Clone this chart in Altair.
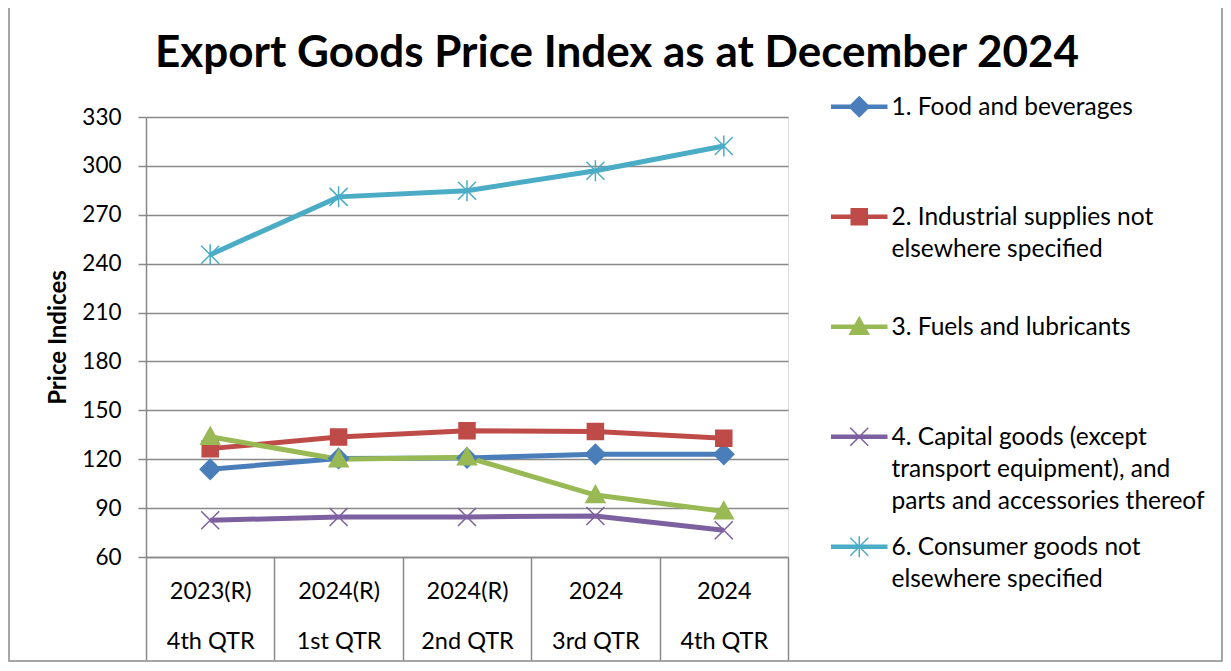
import altair as alt
import pandas as pd

# ---- data ----
categories = ["2023(R)|4th QTR", "2024(R)|1st QTR", "2024(R)|2nd QTR", "2024|3rd QTR", "2024|4th QTR"]
series_labels = [
    "1. Food and beverages||",
    "2. Industrial supplies not|elsewhere specified|",
    "3. Fuels and lubricants||",
    "4. Capital goods (except|transport equipment), and|parts and accessories thereof",
    "6. Consumer goods not|elsewhere specified|",
]
food = [113.8, 120.5, 120.8, 123.0, 123.0]
industrial = [126.5, 133.6, 137.4, 137.0, 132.8]
fuels = [133.8, 120.0, 121.2, 98.0, 88.0]
capital = [82.5, 84.6, 84.6, 85.2, 76.4]
consumer = [245.5, 281.0, 284.8, 297.0, 312.2]
y_ticks = [60, 90, 120, 150, 180, 210, 240, 270, 300, 330]

colors = ["#4A7EBB", "#BE4B48", "#98B954", "#7D60A0", "#4BACC6"]

# marker shapes (unit coordinates)
marker_paths = [
    "M0,-1L1,0L0,1L-1,0Z",
    "M-0.8,-0.8H0.8V0.8H-0.8Z",
    "M0,-0.95L0.95,0.75L-0.95,0.75Z",
    "M-0.9,-0.9L0.9,0.9M-0.9,0.9L0.9,-0.9",
    "M-0.9,-0.9L0.9,0.9M-0.9,0.9L0.9,-0.9M0,-1.05L0,1.05",
]

S = 1.05  # vertical shift of legend symbols to align with first label line
line_part = "M-2.75,{a}H2.75V{b}H-2.75Z".format(a=S - 0.16, b=S + 0.16)
legend_paths = [
    line_part + "M0,{a}L1,{b}L0,{c}L-1,{b}Z".format(a=S - 1, b=S, c=S + 1),
    line_part + "M-0.8,{a}H0.8V{b}H-0.8Z".format(a=S - 0.8, b=S + 0.8),
    line_part + "M0,{a}L0.95,{b}L-0.95,{b}Z".format(a=S - 0.95, b=S + 0.75),
    line_part + "M-0.9,{a}L0.9,{b}M-0.9,{b}L0.9,{a}".format(a=S - 0.9, b=S + 0.9),
    line_part + "M-0.9,{a}L0.9,{b}M-0.9,{b}L0.9,{a}M0,{c}L0,{d}".format(a=S - 0.9, b=S + 0.9, c=S - 1.05, d=S + 1.05),
]

rows = []
for name, vals in zip(series_labels, [food, industrial, fuels, capital, consumer]):
    for c, v in zip(categories, vals):
        rows.append({"quarter": c, "series": name, "value": v})
df = pd.DataFrame(rows)

GRAY = "#898989"
FONT = "Lato"

x_enc = alt.X(
    "quarter:N",
    sort=categories,
    bandPosition=0.5,
    scale=alt.Scale(type="band", paddingInner=0, paddingOuter=0),
    axis=alt.Axis(
        title=None,
        labelExpr="split(datum.label, '|')",
        labelAngle=0,
        tickBand="extent",
        tickSize=103,
        tickColor=GRAY,
        tickWidth=1.5,
        domainColor=GRAY,
        domainWidth=1.5,
        labelPadding=-81,
        labelLineHeight=50,
        labelFont=FONT,
        labelFontSize=23.5,
        labelColor="black",
        labelOverlap=False,
    ),
)
y_enc = alt.Y(
    "value:Q",
    scale=alt.Scale(domain=[60, 330], nice=False, zero=False),
    axis=alt.Axis(
        values=y_ticks,
        title="Price Indices",
        titleFont=FONT,
        titleFontSize=24,
        titleFontWeight="bold",
        titleColor="black",
        titlePadding=11,
        grid=True,
        gridColor=GRAY,
        gridWidth=1.5,
        tickSize=8,
        tickColor=GRAY,
        tickWidth=1.5,
        domainColor=GRAY,
        domainWidth=1.5,
        labelPadding=17,
        labelFont=FONT,
        labelFontSize=22.5,
        labelColor="black",
    ),
)

lines = alt.Chart(df).mark_line(strokeWidth=5).encode(
    x=x_enc,
    y=y_enc,
    color=alt.Color("series:N", scale=alt.Scale(domain=series_labels, range=colors), legend=None),
)

points = alt.Chart(df).mark_point(filled=True, opacity=1, strokeWidth=1.5, size=400).encode(
    x=x_enc,
    y=y_enc,
    fill=alt.Fill("series:N", scale=alt.Scale(domain=series_labels, range=colors), legend=None),
    stroke=alt.Stroke("series:N", scale=alt.Scale(domain=series_labels, range=colors), legend=None),
    shape=alt.Shape("series:N", scale=alt.Scale(domain=series_labels, range=marker_paths), legend=None),
)

legend_def = alt.Legend(
    title=None,
    orient="none",
    legendX=701,
    legendY=-33,
    padding=0,
    labelExpr="split(datum.label, '|')",
    labelBaseline="top",
    labelFont=FONT,
    labelFontSize=24.5,
    labelColor="black",
    labelLimit=600,
    labelOffset=20,
    symbolSize=400,
    symbolStrokeWidth=1.5,
    rowPadding=10,
)

legend_layer = alt.Chart(df).transform_filter("false").mark_point(
    filled=True, opacity=1, strokeWidth=1.5, size=400
).encode(
    fill=alt.Fill("series:N", scale=alt.Scale(domain=series_labels, range=colors), legend=legend_def),
    stroke=alt.Stroke("series:N", scale=alt.Scale(domain=series_labels, range=colors), legend=legend_def),
    shape=alt.Shape("series:N", scale=alt.Scale(domain=series_labels, range=legend_paths), legend=legend_def),
)

border = alt.Chart(alt.Data(values=[{"a": 1}])).mark_rect(
    filled=False, stroke=GRAY, strokeWidth=1.5
).encode(
    x=alt.value(-137), x2=alt.value(1076), y=alt.value(-110), y2=alt.value(544)
)

chart = (
    alt.layer(border, lines, points, legend_layer)
    .resolve_scale(shape="independent", fill="independent", stroke="independent", color="independent")
    .properties(
        width=642,
        height=440,
        autosize=alt.AutoSizeParams(type="none"),
        padding={"left": 138, "top": 109, "right": 435, "bottom": 105},
        title=alt.TitleParams(
            "Export Goods Price Index as at December 2024",
            font=FONT,
            fontSize=44,
            fontWeight="bold",
            color="black",
            anchor="middle",
            frame="group",
            dx=150,
            dy=122,
            baseline="alphabetic",
            offset=17,
        ),
    )
    .configure_view(strokeWidth=0)
    .configure(style={"guide-label": {"lineHeight": 32}})
)

chart.save("out.html", embed_options={"renderer": "svg", "actions": False})
